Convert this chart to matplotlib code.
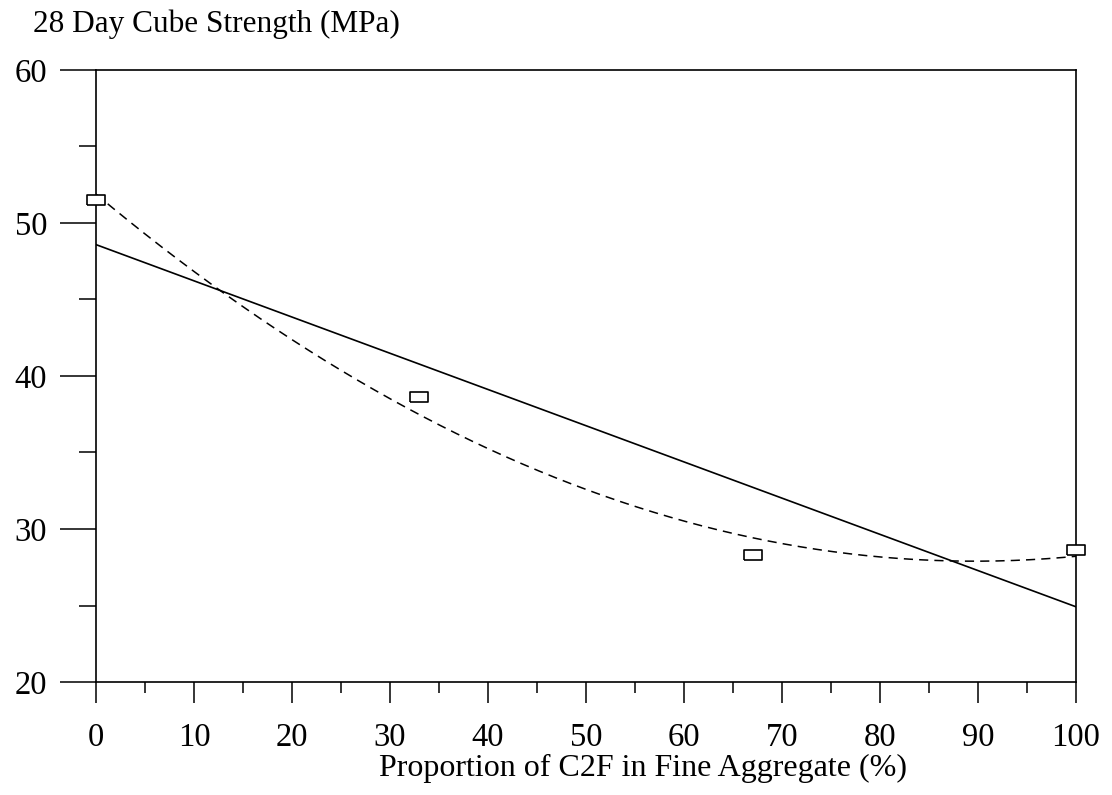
import numpy as np
import matplotlib
matplotlib.use("Agg")
import matplotlib.pyplot as plt
from matplotlib.ticker import MultipleLocator

# C2F replacement level (%) and measured 28-day cube strength (MPa)
c2f_pct = [0, 33, 67, 100]
strength = [51.5, 38.6, 28.3, 28.6]

x_ticks = [0, 10, 20, 30, 40, 50, 60, 70, 80, 90, 100]
y_ticks = [20, 30, 40, 50, 60]

plt.rcParams["font.family"] = ["Liberation Serif", "DejaVu Serif"]

fig = plt.figure(figsize=(11.12, 7.95), dpi=100)
ax = fig.add_axes([0.0863, 0.1421, 0.8813, 0.770])

# least-squares trend lines: linear (solid) and quadratic (dashed)
xs = np.linspace(0, 100, 300)
lin = np.polyfit(c2f_pct, strength, 1)
quad = np.polyfit(c2f_pct, strength, 2)
ax.plot(xs, np.polyval(lin, xs), color="black", lw=1.2)
ax.plot(xs, np.polyval(quad, xs), color="black", lw=1.1, dashes=(6, 4))

box = [(-1, -0.5), (1, -0.5), (1, 0.5), (-1, 0.5), (-1, -0.5)]
ax.plot(c2f_pct, strength, linestyle="none", marker=box, markersize=13,
        markerfacecolor="white", markeredgecolor="black", markeredgewidth=1.2,
        clip_on=False, zorder=5)

ax.set_xlim(0, 100)
ax.set_ylim(20, 60)
ax.set_xticks(x_ticks)
ax.set_yticks(y_ticks)
ax.xaxis.set_minor_locator(MultipleLocator(5))
ax.yaxis.set_minor_locator(MultipleLocator(5))

ax.tick_params(axis="y", which="major", direction="out", length=26, width=1.1,
               labelsize=23.5, pad=9, colors="black")
ax.tick_params(axis="y", which="minor", direction="out", length=12, width=1.1)
ax.tick_params(axis="x", which="major", direction="out", length=15, width=1.1,
               labelsize=23.5, pad=14, colors="black")
ax.tick_params(axis="x", which="minor", direction="out", length=8, width=1.1)

for s in ax.spines.values():
    s.set_linewidth(1.2)
    s.set_color("black")

ax.set_xlabel("Proportion of C2F in Fine Aggregate (%)", fontsize=23, labelpad=2)
ax.xaxis.set_label_coords(0.558, -0.118)
fig.text(0.030, 0.970, "28 Day Cube Strength (MPa)", fontsize=22.5,
         ha="left", va="center")

fig.savefig("out.png", dpi=100, facecolor="white")
